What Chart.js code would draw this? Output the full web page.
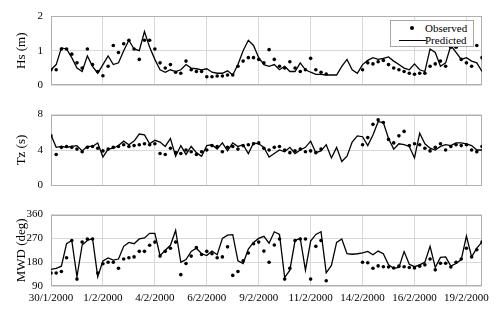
<!DOCTYPE html>
<html>
<head>
<meta charset="utf-8">
<title>Hs, Tz and MWD - observed vs predicted</title>
<script src="https://cdn.jsdelivr.net/npm/chart.js@4.4.1/dist/chart.umd.min.js"></script>
<style>
  body { margin: 0; background: #fff; }
  #wrap { position: relative; width: 496px; height: 313px; font-family: "Liberation Serif", "Times New Roman", serif; }
  .panel { position: absolute; left: 0; }
  #legend {
    position: absolute; left: 390px; top: 20px; width: 82px; height: 25px;
    border: 1px solid #a6a6a6; background: #fff; font-size: 11px; color: #000;
  }
  #legend .row { position: absolute; left: 0; height: 13px; line-height: 13px; width: 100%; }
  #legend .txt { position: absolute; left: 34px; }
  #legend .dot { position: absolute; left: 19px; top: 4px; width: 4px; height: 4px; border-radius: 50%; background: #000; }
  #legend .ln { position: absolute; left: 8px; top: 6px; width: 27px; height: 0; border-top: 1.3px solid #000; }
</style>
</head>
<body>
<div id="wrap">
  <canvas class="panel" id="hsChart" width="496" height="100" style="top:0"></canvas>
  <canvas class="panel" id="tzChart" width="496" height="100" style="top:100px"></canvas>
  <canvas class="panel" id="mwdChart" width="496" height="113" style="top:200px"></canvas>
  <div id="legend">
    <div class="row" style="top:1px"><span class="dot"></span><span class="txt">Observed</span></div>
    <div class="row" style="top:13px"><span class="ln"></span><span class="txt">Predicted</span></div>
  </div>
</div>
<script>
// Data: one record every 6 hours from 30/1/2000 00:00 (day offsets)
const STEP_DAYS = 0.25;
const X_MAX = 20.75;

// x axis tick labels (every 2.5 days)
const xTickLabels = ['30/1/2000', '1/2/2000', '4/2/2000', '6/2/2000', '9/2/2000',
                     '11/2/2000', '14/2/2000', '16/2/2000', '19/2/2000'];

// Hs (m)
const hsObserved = [
  0.45, 0.45, 1.05, 1.05,   0.9, 0.65, 0.5, 1.05,   0.6, 0.4, 0.28, 0.55,
  1.15, 0.95, 1.2, 1.3,     1.05, 0.75, 1.3, 1.3,   1.05, 0.65, 0.5, 0.6,
  0.38, 0.35, 0.7, 0.45,    0.4, 0.4, 0.25, 0.25,   0.27, 0.27, 0.3, 0.3,
  0.55, 0.7, 0.8, 0.8,      0.75, 0.65, 1.03, 0.75, 0.55, 0.5, 0.68, 0.5,
  0.4, 0.45, 0.78, 0.45,    0.38, 0.33, null, null, null, null, null, null,
  0.45, 0.65, 0.62, 0.68,   0.72, 0.6, 0.5, 0.45,   0.4, 0.35, 0.32, 0.35,
  0.35, 0.55, 0.62, 0.7,    0.55, 1.1, 1.1, 0.75,   0.65, 0.55, 1.15, 0.8
];
const hsPredicted = [
  0.45, 0.6, 1.08, 1.05,    0.8, 0.5, 0.4, 0.85,    0.55, 0.35, 0.6, 0.85,
  0.6, 0.65, 1.0, 1.3,      1.05, 1.0, 1.55, 1.1,   0.75, 0.45, 0.38, 0.45,
  0.4, 0.45, 0.6, 0.5,      0.48, 0.45, 0.48, 0.38, 0.35, 0.35, 0.42, 0.3,
  0.6, 1.0, 1.3, 1.15,      0.8, 0.6, 0.55, 0.6,    0.45, 0.55, 0.4, 0.4,
  0.65, 0.45, 0.38, 0.32,   0.32, 0.3, 0.3, 0.3,    0.55, 0.75, 0.45, 0.35,
  0.6, 0.72, 0.8, 0.75,     0.78, 0.82, 0.7, 0.6,   0.5, 0.45, 0.62, 0.45,
  0.4, 1.05, 0.95, 0.55,    0.65, 1.15, 0.95, 0.75, 0.8, 0.7, 0.65, 0.4
];

// Tz (s)
const tzObserved = [
  5.6, 3.5, 4.3, 4.4,   4.3, 4.1, 3.8, 4.3,   4.4, 4.2, 3.9, 4.1,
  4.3, 4.4, 4.6, 4.4,   4.5, 4.6, 4.7, 4.6,   4.7, 3.6, 3.5, 4.2,
  3.7, 3.6, 4.0, 3.8,   3.5, 3.8, 4.0, 4.5,   4.4, 3.8, 4.3, 4.4,
  4.1, 4.5, 4.6, 4.7,   4.8, 4.2, 4.0, 4.3,   4.4, 4.0, 3.7, 3.9,
  4.1, 3.8, 3.9, 3.7,   4.1, null, null, null, null, null, null, null,
  4.6, 5.4, 6.9, 7.4,   7.1, 5.2, 4.8, 5.6,   6.1, 4.5, 4.7, 4.6,
  4.2, 3.9, 4.3, 4.7,   4.0, 4.4, 4.6, 4.5,   4.6, 4.0, 3.8, 4.4
];
const tzPredicted = [
  5.7, 4.3, 4.4, 4.3,   4.4, 4.5, 3.9, 4.4,   4.4, 4.8, 3.2, 4.1,
  4.2, 4.5, 5.0, 4.6,   5.0, 5.8, 5.7, 4.7,   5.1, 4.9, 4.4, 5.3,
  3.3, 4.5, 3.5, 4.4,   3.7, 3.3, 4.5, 4.6,   4.1, 4.8, 3.9, 4.8,
  4.4, 4.6, 3.6, 4.8,   4.7, 4.3, 3.2, 3.6,   4.0, 3.8, 4.3, 3.6,
  4.0, 4.3, 5.0, 3.7,   3.9, 4.6, 3.1, 4.3,   2.7, 3.3, 4.9, 5.6,
  5.5, 4.5, 5.7, 7.2,   7.1, 5.3, 4.1, 4.7,   4.6, 4.4, 3.1, 5.9,
  4.7, 4.2, 4.0, 4.4,   4.6, 4.5, 4.8, 4.8,   4.7, 4.5, 4.0, 4.0
];

// MWD (deg)
const mwdObserved = [
  139, 139, 145, 197,   262, 116, 256, 268,   268, 139, 174, 180,
  180, 157, 192, 197,   200, 221, 221, 244,   256, 203, 221, 233,
  256, 133, 175, 203,   235, 209, 221, 212,   197, 200, 238, 130,
  145, 185, 215, 250,   256, 222, 180, 245,   268, 116, 157, 262,
  268, 268, 116, 240,   262, 110, null, null, null, null, null, null,
  180, 178, 157, 166,   163, 162, 158, 165,   163, 160, 158, 165,
  170, 192, 151, 176,   176, 162, 180, 192,   233, 200, 227, 256
];
const mwdPredicted = [
  153, 157, 165, 250,   262, 125, 245, 262,   270, 125, 185, 196,
  188, 192, 240, 255,   250, 268, 272, 289,   289, 205, 225, 244,
  300, 180, 190, 221,   233, 212, 205, 222,   208, 270, 282, 284,
  185, 175, 230, 255,   270, 278, 252, 295,   285, 122, 150, 262,
  270, 150, 260, 285,   295, 140, 168, 255,   268, 212, 210, 212,
  215, 221, 208, 222,   212, 170, 157, 160,   220, 172, 163, 170,
  180, 240, 160, 198,   200, 165, 175, 190,   279, 200, 233, 256
];

const FONT = 'Liberation Serif';
const GRID = '#d9d9d9';

function toPoints(values) {
  return values.map((v, i) => ({ x: i * STEP_DAYS, y: v }));
}

// grey frame round the plot area
const plotFrame = {
  id: 'plotFrame',
  beforeDatasetsDraw(chart) {
    const { ctx, chartArea: a } = chart;
    ctx.save();
    ctx.strokeStyle = '#b0b0b0';
    ctx.lineWidth = 1;
    ctx.strokeRect(Math.round(a.left) + 0.5, Math.round(a.top) + 0.5,
                   Math.round(a.right - a.left) - 1, Math.round(a.bottom - a.top) - 1);
    ctx.restore();
  }
};

function buildChart(id, cfg, padTop, padBottom) {
  return new Chart(document.getElementById(id), {
    type: 'line',
    data: {
      datasets: [
        {
          label: 'Observed',
          data: toPoints(cfg.observed),
          showLine: false,
          pointRadius: 1.8,
          pointBackgroundColor: '#000',
          pointBorderWidth: 0
        },
        {
          label: 'Predicted',
          data: toPoints(cfg.predicted),
          borderColor: '#000',
          borderWidth: 1.3,
          pointRadius: 0,
          tension: 0
        }
      ]
    },
    options: {
      responsive: false,
      animation: false,
      events: [],
      layout: {
        autoPadding: false,
        padding: { top: padTop, right: 14, bottom: padBottom, left: 0 }
      },
      plugins: { legend: { display: false }, tooltip: { enabled: false } },
      scales: {
        x: {
          type: 'linear',
          min: 0,
          max: X_MAX,
          grid: { color: GRID, drawTicks: false },
          border: { display: false },
          ticks: {
            display: cfg.showDates,
            stepSize: 2.5,
            includeBounds: false,
            autoSkip: false,
            maxRotation: 0,
            padding: cfg.showDates ? 6 : 0,
            color: '#000',
            font: { family: FONT, size: 11 },
            callback: v => xTickLabels[Math.round(v / 2.5)] || ''
          },
          afterFit: s => { s.height = cfg.xHeight; }
        },
        y: {
          min: cfg.min,
          max: cfg.max,
          grid: { color: GRID, drawTicks: false },
          border: { display: false },
          ticks: {
            stepSize: cfg.step,
            padding: 8,
            color: '#000',
            font: { family: FONT, size: 11 }
          },
          title: {
            display: true,
            text: cfg.title,
            color: '#000',
            font: { family: FONT, size: 13 },
            padding: { top: 14, bottom: 0 }
          },
          afterFit: s => { s.width = 51; }
        }
      }
    },
    plugins: [plotFrame]
  });
}

// build once, measure the plot area, then rebuild with the padding corrected
// so the plot area lands exactly on cfg.top..cfg.bottom
function makePanel(id, cfg) {
  const h = document.getElementById(id).height;
  const padBottom0 = h - cfg.bottom - cfg.xHeight;
  const probe = buildChart(id, cfg, cfg.top, padBottom0);
  const a = probe.chartArea;
  const padTop = cfg.top + (cfg.top - a.top);
  const padBottom = padBottom0 + (a.bottom - cfg.bottom);
  probe.destroy();
  return buildChart(id, cfg, padTop, padBottom);
}

makePanel('hsChart', {
  observed: hsObserved, predicted: hsPredicted,
  min: 0, max: 2, step: 1, title: 'Hs (m)',
  top: 16, bottom: 94, xHeight: 0, showDates: false
});
makePanel('tzChart', {
  observed: tzObserved, predicted: tzPredicted,
  min: 0, max: 8, step: 4, title: 'Tz (s)',
  top: 14, bottom: 87, xHeight: 0, showDates: false
});
makePanel('mwdChart', {
  observed: mwdObserved, predicted: mwdPredicted,
  min: 90, max: 360, step: 90, title: 'MWD (deg)',
  top: 9, bottom: 86, xHeight: 27, showDates: true
});
</script>
</body>
</html>
